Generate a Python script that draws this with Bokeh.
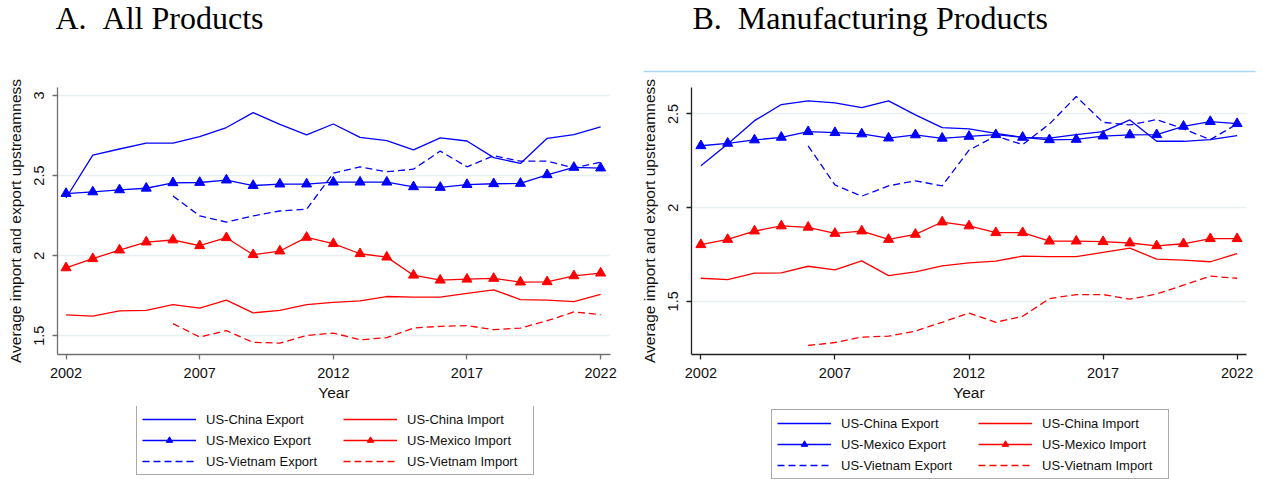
from bokeh.plotting import figure
from bokeh.models import Range1d, FixedTicker, Legend, LegendItem, Label
from bokeh.layouts import row, column
from bokeh.embed import file_html
from bokeh.resources import INLINE

# ---------------- data ----------------
years = [2002, 2003, 2004, 2005, 2006, 2007, 2008, 2009, 2010, 2011, 2012,
         2013, 2014, 2015, 2016, 2017, 2018, 2019, 2020, 2021, 2022]
years_vn = [2006, 2007, 2008, 2009, 2010, 2011, 2012, 2013, 2014, 2015, 2016,
            2017, 2018, 2019, 2020, 2021, 2022]

x_ticks = [2002, 2007, 2012, 2017, 2022]
a_y_ticks = [1.5, 2, 2.5, 3]
b_y_ticks = [1.5, 2, 2.5]

# Panel A: All Products
a_china_exp = [2.36, 2.628, 2.666, 2.703, 2.703, 2.743, 2.80, 2.893, 2.82, 2.754, 2.822,
               2.739, 2.718, 2.66, 2.735, 2.716, 2.612, 2.576, 2.733, 2.756, 2.804]
a_mexico_exp = [2.388, 2.398, 2.411, 2.421, 2.455, 2.457, 2.472, 2.438, 2.447, 2.447, 2.459,
                2.459, 2.459, 2.43, 2.426, 2.444, 2.449, 2.451, 2.505, 2.551, 2.547]
a_vietnam_exp = [2.373, 2.248, 2.21, 2.248, 2.279, 2.29, 2.515, 2.555, 2.524, 2.54, 2.653,
                 2.555, 2.624, 2.59, 2.59, 2.547, 2.584]
a_china_imp = [1.630, 1.622, 1.655, 1.659, 1.695, 1.672, 1.722, 1.643, 1.659, 1.695, 1.709,
               1.718, 1.745, 1.741, 1.741, 1.764, 1.787, 1.726, 1.722, 1.713, 1.758]
a_mexico_imp = [1.924, 1.981, 2.035, 2.085, 2.098, 2.062, 2.112, 2.006, 2.029, 2.114, 2.075,
                2.012, 1.991, 1.878, 1.847, 1.853, 1.858, 1.835, 1.837, 1.874, 1.891]
a_vietnam_imp = [1.576, 1.492, 1.532, 1.459, 1.454, 1.502, 1.517, 1.475, 1.488, 1.548, 1.559,
                 1.563, 1.538, 1.548, 1.594, 1.649, 1.632]

# Panel B: Manufacturing Products
b_china_exp = [2.223, 2.339, 2.464, 2.55, 2.57, 2.559, 2.534, 2.57, 2.495, 2.427, 2.42,
               2.396, 2.375, 2.371, 2.389, 2.405, 2.468, 2.354, 2.354, 2.363, 2.384]
b_mexico_exp = [2.33, 2.343, 2.361, 2.375, 2.405, 2.40, 2.393, 2.371, 2.388, 2.37, 2.38,
                2.389, 2.375, 2.362, 2.364, 2.382, 2.388, 2.389, 2.434, 2.459, 2.448]
b_vietnam_exp = [2.33, 2.121, 2.061, 2.116, 2.143, 2.116, 2.307, 2.382, 2.336, 2.446, 2.593,
                 2.455, 2.441, 2.47, 2.42, 2.363, 2.446]
b_china_imp = [1.623, 1.616, 1.65, 1.652, 1.687, 1.668, 1.716, 1.637, 1.657, 1.689, 1.705,
               1.714, 1.741, 1.738, 1.738, 1.761, 1.784, 1.725, 1.72, 1.711, 1.755]
b_mexico_imp = [1.802, 1.83, 1.875, 1.902, 1.895, 1.862, 1.875, 1.83, 1.857, 1.923, 1.902,
                1.866, 1.866, 1.821, 1.821, 1.818, 1.811, 1.796, 1.807, 1.834, 1.834]
b_vietnam_imp = [1.264, 1.28, 1.309, 1.314, 1.341, 1.388, 1.437, 1.388, 1.42, 1.514, 1.536,
                 1.536, 1.511, 1.539, 1.586, 1.634, 1.623]

labels = ["US-China Export", "US-China Import", "US-Mexico Export",
          "US-Mexico Import", "US-Vietnam Export", "US-Vietnam Import"]
titles = ["A. \u00a0All Products", "B. \u00a0Manufacturing Products"]

BLUE = "#0000ff"
RED = "#ff0000"
SANS = "Liberation Sans"
SERIF = "Liberation Serif"
DASH = "7 4"
LW = 1.3

WA, WB = 635, 628          # widths of left / right columns
H_TITLE, H_MAIN, H_LEG = 75, 331, 73


def blank(width, height):
    p = figure(width=width, height=height, x_range=Range1d(0, width), y_range=Range1d(0, height),
               output_backend="svg", toolbar_location=None,
               x_axis_location=None, y_axis_location=None,
               min_border=0, min_border_left=0, min_border_right=0,
               min_border_top=0, min_border_bottom=0)
    p.outline_line_color = None
    p.xgrid.visible = False
    p.ygrid.visible = False
    return p


def title_fig(text, width, x, rule=False):
    p = blank(width, H_TITLE)
    p.add_layout(Label(x=x, y=H_TITLE - 17, text=text, text_font=SERIF,
                       text_font_size="32px", text_color="#000000",
                       text_baseline="alphabetic", text_align="left"))
    if rule:
        p.segment(x0=[8], y0=[H_TITLE - 71], x1=[width - 8], y1=[H_TITLE - 71],
                  line_color="#a9d9f2", line_width=1.5)
    return p


def draw_series(p, series):
    ce, me, ve, ci, mi, vi = series
    r = {}
    r["ce"] = [p.line(years, ce, line_color=BLUE, line_width=LW)]
    r["me"] = [p.line(years, me, line_color=BLUE, line_width=LW),
               p.scatter(years, me, marker="triangle", size=10, fill_color=BLUE, line_color=BLUE)]
    r["ve"] = [p.line(years_vn, ve, line_color=BLUE, line_width=LW, line_dash=DASH)]
    r["ci"] = [p.line(years, ci, line_color=RED, line_width=LW)]
    r["mi"] = [p.line(years, mi, line_color=RED, line_width=LW),
               p.scatter(years, mi, marker="triangle", size=10, fill_color=RED, line_color=RED)]
    r["vi"] = [p.line(years_vn, vi, line_color=RED, line_width=LW, line_dash=DASH)]
    return r


def panel(width, xr, yr, borders, yticks, spine, series):
    bl, br, bt, bb = borders
    p = figure(width=width, height=H_MAIN, x_range=Range1d(*xr), y_range=Range1d(*yr),
               output_backend="svg", toolbar_location=None,
               min_border_left=bl, min_border_right=br, min_border_top=bt,
               min_border_bottom=bb)
    p.outline_line_color = None
    draw_series(p, series)

    p.xaxis.ticker = FixedTicker(ticks=x_ticks)
    p.yaxis.ticker = FixedTicker(ticks=yticks)
    p.yaxis.major_label_overrides = {t: ("%g" % t) for t in yticks}
    for ax in (p.xaxis, p.yaxis):
        ax.axis_line_color = spine
        ax.axis_line_width = 1.3
        ax.major_tick_line_color = spine
        ax.major_tick_line_width = 1.3
        ax.major_tick_in = 0
        ax.major_tick_out = 5
        ax.minor_tick_line_color = None
        ax.major_label_text_font = SANS
        ax.major_label_text_font_size = "14.5px"
        ax.major_label_text_color = "#111111"
        ax.axis_label_text_font = SANS
        ax.axis_label_text_font_size = "15.5px"
        ax.axis_label_text_font_style = "normal"
        ax.axis_label_text_color = "#111111"
    p.xaxis.axis_label = "Year"
    p.yaxis.axis_label = "Average import and export upstreamness"
    p.yaxis.major_label_orientation = "vertical"
    p.xaxis.major_label_standoff = 8
    p.yaxis.major_label_standoff = 8
    p.xaxis.axis_label_standoff = 3
    p.yaxis.axis_label_standoff = 8

    p.xgrid.visible = False
    p.ygrid.grid_line_color = "#e8f0f2"
    p.ygrid.grid_line_width = 1.5
    return p


def legend_fig(width, loc_y, series):
    # the series lie outside this strip's pixel ranges, so only the legend shows
    p = blank(width, H_LEG)
    r = draw_series(p, series)
    common = dict(orientation="vertical", glyph_width=54, glyph_height=16, label_height=16,
                  label_standoff=10, spacing=5, padding=5, margin=0,
                  label_text_font=SANS, label_text_font_size="13px",
                  label_text_color="#111111", border_line_width=1)
    left = Legend(items=[LegendItem(label=labels[0], renderers=r["ce"]),
                         LegendItem(label=labels[2], renderers=r["me"]),
                         LegendItem(label=labels[4], renderers=r["ve"])],
                  location=(136, loc_y), label_width=322,
                  border_line_color="#555555",
                  background_fill_color="white", background_fill_alpha=1.0, **common)
    right = Legend(items=[LegendItem(label=labels[1], renderers=r["ci"]),
                          LegendItem(label=labels[3], renderers=r["mi"]),
                          LegendItem(label=labels[5], renderers=r["vi"])],
                   location=(338, loc_y + 1), label_width=120,
                   border_line_color="white", border_line_alpha=0.0,
                   background_fill_color="white", background_fill_alpha=0.0, **common)
    p.add_layout(left, "center")
    p.add_layout(right, "center")
    return p


A_SERIES = (a_china_exp, a_mexico_exp, a_vietnam_exp, a_china_imp, a_mexico_imp, a_vietnam_imp)
B_SERIES = (b_china_exp, b_mexico_exp, b_vietnam_exp, b_china_imp, b_mexico_imp, b_vietnam_imp)

ta = title_fig(titles[0], WA, 55)
tb = title_fig(titles[1], WB, 692 - WA, rule=True)

# both frames span page rows 87..353 (Bokeh aligns the frames within a row)
pa = panel(WA, (2001.68, 2022.37), (1.383, 3.050), (57, WA - 610, 12, 52), a_y_ticks, "#707070",
           A_SERIES)
pb = panel(WB, (2001.65, 2022.35), (1.216, 2.641), (691 - WA, 1263 - 1246, 12, 52), b_y_ticks,
           "#222222", B_SERIES)

la = legend_fig(WA, 4, A_SERIES)
lb = legend_fig(WB, 0, B_SERIES)

layout = column(row(ta, tb, spacing=0), row(pa, pb, spacing=0), row(la, lb, spacing=0), spacing=0)
open("out.html", "w").write(file_html(layout, INLINE))
